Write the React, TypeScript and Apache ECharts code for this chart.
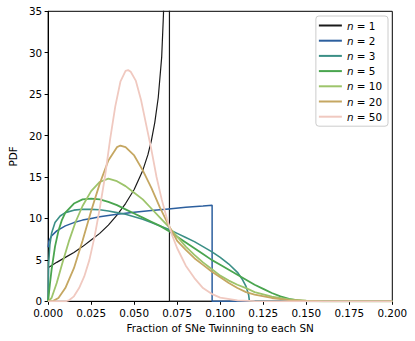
import React, { useEffect, useRef } from "react";
import * as echarts from "echarts";

type P = [number, number];

const seriesNames = ["n = 1", "n = 2", "n = 3", "n = 5", "n = 10", "n = 20", "n = 50"];
const seriesColors = ["#1a1a1a", "#2c5f9e", "#3b8f86", "#4aa54f", "#9dc46b", "#c5a762", "#f0c9c0"];

const xTicks = [0, 0.025, 0.05, 0.075, 0.1, 0.125, 0.15, 0.175, 0.2];
const yTicks = [0, 5, 10, 15, 20, 25, 30, 35];

const n1: P[] = [
  [0, 4.05], [0.005, 4.7], [0.01, 5.3], [0.015, 5.9], [0.02, 6.6], [0.025, 7.4], [0.03, 8.2],
  [0.035, 9.2], [0.04, 10.4], [0.045, 11.8], [0.05, 13.5], [0.055, 15.8], [0.058, 17.7],
  [0.06, 19.4], [0.062, 21.6], [0.064, 24.6], [0.066, 29.5], [0.067, 34.5], [0.068, 42],
  [0.069, 60], [0.0705, 200], [0.0705, 0], [0.2, 0],
];
const n2: P[] = [
  [0, 6.5], [0.0005, 7.3], [0.002, 7.9], [0.005, 8.5], [0.01, 9.1], [0.015, 9.5], [0.02, 9.8],
  [0.025, 10.0], [0.03, 10.2], [0.04, 10.5], [0.05, 10.75], [0.06, 10.95], [0.07, 11.15],
  [0.08, 11.35], [0.09, 11.5], [0.0953, 11.6], [0.0953, 0], [0.2, 0],
];
const n3: P[] = [
  [0, 0], [0.0003, 4.5], [0.001, 6.8], [0.002, 8.2], [0.004, 9.5], [0.007, 10.3], [0.01, 10.7],
  [0.015, 11.0], [0.02, 11.1], [0.025, 11.1], [0.03, 11.05], [0.035, 10.9], [0.04, 10.7],
  [0.045, 10.5], [0.05, 10.2], [0.055, 9.9], [0.06, 9.5], [0.065, 9.1], [0.07, 8.7], [0.075, 8.2],
  [0.08, 7.7], [0.085, 7.2], [0.09, 6.6], [0.095, 6.0], [0.1, 5.3], [0.105, 4.5], [0.11, 3.5],
  [0.113, 2.6], [0.115, 1.8], [0.1165, 0.8], [0.117, 0], [0.2, 0],
];
const n5: P[] = [
  [0, 0], [0.001, 2.0], [0.002, 3.8], [0.004, 6.6], [0.006, 8.5], [0.008, 9.8], [0.01, 10.7],
  [0.015, 11.8], [0.02, 12.3], [0.025, 12.4], [0.03, 12.3], [0.035, 12.0], [0.04, 11.6],
  [0.045, 11.1], [0.05, 10.6], [0.055, 10.1], [0.06, 9.6], [0.065, 9.1], [0.07, 8.5], [0.075, 7.8],
  [0.08, 7.1], [0.085, 6.4], [0.09, 5.7], [0.095, 5.0], [0.1, 4.4], [0.105, 3.8], [0.11, 3.2],
  [0.115, 2.6], [0.12, 2.0], [0.125, 1.5], [0.13, 1.0], [0.135, 0.6], [0.14, 0.3], [0.145, 0.1],
  [0.15, 0], [0.2, 0],
];
const n10: P[] = [
  [0, 0], [0.002, 0.4], [0.005, 2.2], [0.008, 4.4], [0.012, 7.2], [0.016, 9.6], [0.02, 11.5],
  [0.025, 13.3], [0.03, 14.4], [0.035, 14.8], [0.04, 14.5], [0.045, 13.9], [0.05, 13.1],
  [0.055, 12.3], [0.06, 11.2], [0.065, 10.1], [0.07, 9.0], [0.075, 7.8], [0.08, 6.6], [0.085, 5.6],
  [0.09, 4.7], [0.095, 3.9], [0.1, 3.1], [0.105, 2.5], [0.11, 2.0], [0.115, 1.6], [0.12, 1.1],
  [0.13, 0.55], [0.14, 0.22], [0.15, 0.07], [0.16, 0], [0.2, 0],
];
const n20: P[] = [
  [0, 0], [0.003, 0.05], [0.006, 0.4], [0.01, 1.6], [0.015, 4.0], [0.02, 7.3], [0.025, 10.9],
  [0.03, 14.2], [0.035, 17.0], [0.04, 18.6], [0.042, 18.8], [0.045, 18.6], [0.05, 17.6],
  [0.055, 15.8], [0.06, 13.7], [0.065, 11.3], [0.07, 9.2], [0.075, 7.3], [0.08, 6.2], [0.085, 5.2],
  [0.09, 4.4], [0.095, 3.6], [0.1, 2.9], [0.105, 2.2], [0.11, 1.6], [0.115, 1.1], [0.12, 0.8],
  [0.13, 0.4], [0.14, 0.15], [0.15, 0.05], [0.16, 0], [0.2, 0],
];
const n50: P[] = [
  [0, 0], [0.01, 0], [0.012, 0.1], [0.015, 0.6], [0.018, 1.6], [0.021, 3.0], [0.024, 5.0],
  [0.027, 7.8], [0.03, 11.2], [0.033, 15.0], [0.036, 19.5], [0.039, 23.5], [0.042, 26.5],
  [0.045, 27.8], [0.0465, 27.9], [0.048, 27.7], [0.051, 26.6], [0.054, 24.3], [0.057, 21.3],
  [0.06, 18.3], [0.063, 15.0], [0.066, 12.3], [0.069, 10.0], [0.072, 8.0], [0.075, 6.4],
  [0.08, 4.3], [0.085, 2.8], [0.09, 1.6], [0.095, 0.9], [0.1, 0.45], [0.11, 0.12], [0.12, 0.02],
  [0.13, 0], [0.2, 0],
];

const seriesData = [n1, n2, n3, n5, n10, n20, n50];
const seriesWidths = [1.2, 1.5, 1.6, 1.8, 1.8, 1.8, 1.8];

const FONT = "DejaVu Sans";
const FS = 10.4;

export default function App() {
  const ref = useRef<HTMLDivElement>(null);
  useEffect(() => {
    if (!ref.current) return;
    const chart = echarts.init(ref.current, undefined, { renderer: "svg" });
    chart.setOption({
      animation: false,
      backgroundColor: "#ffffff",
      textStyle: { fontFamily: FONT },
      grid: {
        left: 42.3,
        top: 11.3,
        width: 350,
        height: 290,
        show: true,
        borderColor: "#000",
        borderWidth: 1,
        backgroundColor: "transparent",
      },
      legend: {
        orient: "vertical",
        right: 27,
        top: 16,
        data: seriesNames,
        icon: "rect",
        itemWidth: 23,
        itemHeight: 2,
        itemGap: 2.2,
        padding: [3, 6, 3, 3],
        backgroundColor: "rgba(255,255,255,0.85)",
        borderColor: "#cccccc",
        borderWidth: 1,
        borderRadius: 3,
        formatter: (name: string) => name.replace("n", "{i|n}"),
        textStyle: {
          fontFamily: FONT,
          fontSize: FS,
          color: "#000",
          lineHeight: 13,
          rich: { i: { fontStyle: "italic", fontFamily: FONT, fontSize: FS, lineHeight: 13 } },
        },
      },
      xAxis: {
        type: "value",
        min: xTicks[0],
        max: xTicks[xTicks.length - 1],
        interval: 0.025,
        name: "Fraction of SNe Twinning to each SN",
        nameLocation: "middle",
        nameGap: 21,
        nameTextStyle: { fontFamily: FONT, fontSize: FS, color: "#000" },
        axisLine: { show: true, onZero: false, lineStyle: { color: "#000", width: 1 } },
        axisTick: { show: true, inside: false, length: 3.5, lineStyle: { color: "#000" } },
        axisLabel: {
          fontFamily: FONT,
          fontSize: FS,
          lineHeight: 11,
          color: "#000",
          margin: 6,
          formatter: (v: number) => v.toFixed(3),
        },
        splitLine: { show: false },
      },
      yAxis: {
        type: "value",
        min: yTicks[0],
        max: yTicks[yTicks.length - 1],
        interval: 5,
        name: "PDF",
        nameLocation: "middle",
        nameGap: 25,
        nameTextStyle: { fontFamily: FONT, fontSize: FS, color: "#000" },
        axisLine: { show: true, onZero: false, lineStyle: { color: "#000", width: 1 } },
        axisTick: { show: true, inside: false, length: 3.5, lineStyle: { color: "#000" } },
        axisLabel: { fontFamily: FONT, fontSize: FS, lineHeight: 10, color: "#000", margin: 6 },
        splitLine: { show: false },
      },
      series: seriesNames.map((name, i) => ({
        name,
        type: "line",
        data: seriesData[i],
        showSymbol: false,
        symbol: "none",
        clip: true,
        color: seriesColors[i],
        itemStyle: { color: seriesColors[i] },
        lineStyle: { color: seriesColors[i], width: seriesWidths[i] },
      })),
    });
    return () => chart.dispose();
  }, []);
  return (
    <div
      ref={ref}
      style={{ position: "fixed", left: 0, top: 0, width: 415, height: 341, background: "#fff" }}
    />
  );
}
